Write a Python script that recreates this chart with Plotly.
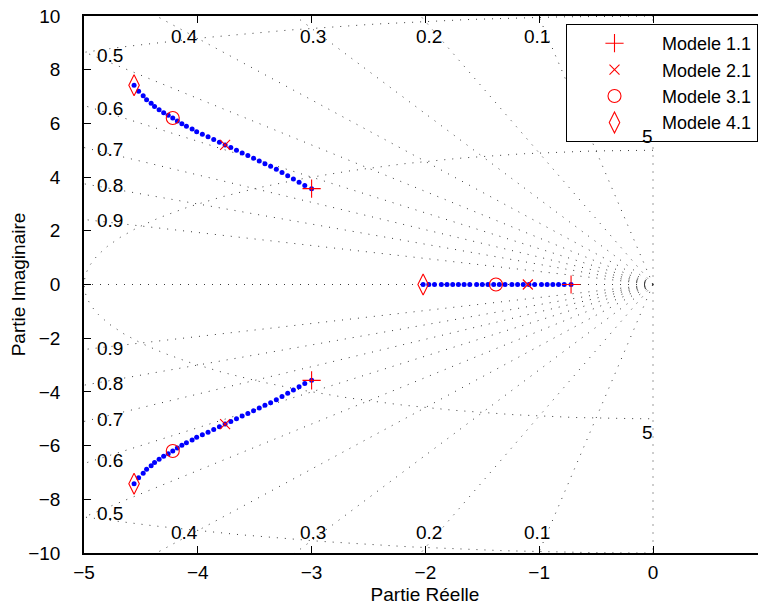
import numpy as np
import plotly.graph_objects as go

# ---------------- data ----------------
branch_up_x = [-4.56, -4.52, -4.48, -4.45, -4.41, -4.38, -4.34, -4.30, -4.26, -4.22,
               -4.18, -4.14, -4.10, -4.05, -4.01, -3.96, -3.91, -3.86, -3.81, -3.76,
               -3.71, -3.66, -3.61, -3.56, -3.51, -3.46, -3.41, -3.36, -3.31, -3.26,
               -3.21, -3.16, -3.11, -3.06, -3.00]
branch_up_y = [7.42, 7.20, 7.03, 6.88, 6.75, 6.63, 6.51, 6.40, 6.30, 6.20,
               6.09, 5.99, 5.89, 5.79, 5.69, 5.60, 5.50, 5.40, 5.30, 5.20,
               5.10, 5.00, 4.90, 4.80, 4.70, 4.60, 4.50, 4.40, 4.29, 4.17,
               4.05, 3.93, 3.81, 3.69, 3.57]
branch_dn_x = [-4.56, -4.52, -4.48, -4.45, -4.41, -4.38, -4.34, -4.30, -4.26, -4.22,
               -4.18, -4.14, -4.10, -4.05, -4.01, -3.96, -3.91, -3.86, -3.81, -3.76,
               -3.71, -3.66, -3.61, -3.56, -3.51, -3.46, -3.41, -3.36, -3.31, -3.26,
               -3.21, -3.16, -3.11, -3.06, -3.00]
branch_dn_y = [-7.42, -7.20, -7.03, -6.88, -6.75, -6.63, -6.51, -6.40, -6.30, -6.20,
               -6.09, -5.99, -5.89, -5.79, -5.69, -5.60, -5.50, -5.40, -5.30, -5.20,
               -5.10, -5.00, -4.90, -4.80, -4.70, -4.60, -4.50, -4.40, -4.29, -4.17,
               -4.05, -3.93, -3.81, -3.69, -3.57]
real_x = [-2.02, -1.97, -1.92, -1.86, -1.81, -1.76, -1.71, -1.66, -1.61, -1.55,
          -1.50, -1.45, -1.40, -1.35, -1.30, -1.24, -1.19, -1.14, -1.09, -1.04,
          -0.98, -0.93, -0.88, -0.83, -0.78, -0.72]
real_y = [0.0] * len(real_x)

model_names = ["Modele 1.1", "Modele 2.1", "Modele 3.1", "Modele 4.1"]
model_x = [[-3.00, -3.00, -0.72],
           [-3.76, -3.76, -1.10],
           [-4.22, -4.22, -1.38],
           [-4.56, -4.56, -2.02]]
model_y = [[3.57, -3.57, 0.0],
           [5.20, -5.20, 0.0],
           [6.20, -6.20, 0.0],
           [7.42, -7.42, 0.0]]

zeta_values = [0.1, 0.2, 0.3, 0.4, 0.5, 0.6, 0.7, 0.8, 0.9]
zeta_labels = ["0.1", "0.2", "0.3", "0.4", "0.5", "0.6", "0.7", "0.8", "0.9"]
wn_values = [5, 10]
wn_labels = ["5", "10"]

x_ticks = [-5, -4, -3, -2, -1, 0, 1]
y_ticks = [-10, -8, -6, -4, -2, 0, 2, 4, 6, 8, 10]

# ---------------- styling ----------------
FONT = "Liberation Sans, Arial, Helvetica, sans-serif"
FS = 19
GRID_COLOR = "#3a3a3a"
X_RANGE = [-5, 0.993]
Y_RANGE = [-10, 10]

fig = go.Figure()

# damping-ratio rays (zeta = 0 and 1 give imaginary and negative real axes)
gx, gy = [], []
for z in [0.0] + zeta_values + [1.0]:
    s = np.sqrt(1 - z * z)
    L = 30
    for sign in (1, -1):
        gx += [0, -z * L, None]
        gy += [0, sign * s * L, None]
# natural-frequency circles
th = np.linspace(np.pi / 2, 3 * np.pi / 2, 400)
for wn in wn_values:
    gx += list(wn * np.cos(th)) + [None]
    gy += list(wn * np.sin(th)) + [None]

fig.add_trace(go.Scatter(x=gx, y=gy, mode="lines", showlegend=False,
                         hoverinfo="skip",
                         line=dict(color=GRID_COLOR, width=1, dash="1px,7px")))

# loci (blue dots)
for xs, ys in [(branch_up_x, branch_up_y), (branch_dn_x, branch_dn_y), (real_x, real_y)]:
    fig.add_trace(go.Scatter(x=xs, y=ys, mode="markers", showlegend=False,
                             marker=dict(color="#0000ff", size=5)))

symbols = ["cross-thin", "x-thin", "circle-open", "diamond-tall-open"]
sizes = [13, 10, 13, 15]
for name, xs, ys, sym, sz in zip(model_names, model_x, model_y, symbols, sizes):
    fig.add_trace(go.Scatter(x=xs, y=ys, mode="markers", name=name,
                             marker=dict(symbol=sym, size=sz, color="#ff0000",
                                         line=dict(color="#ff0000", width=1.1))))

annotations = []
for z, lab in zip(zeta_values, zeta_labels):
    s = np.sqrt(1 - z * z)
    y_at_left = 5 * s / z
    if y_at_left > 10:
        xl = -9.22 * z / s - 0.09
        for yl in (9.22, -9.22):
            annotations.append(dict(x=xl, y=yl, text=lab, showarrow=False,
                                    font=dict(family=FONT, size=FS, color="black")))
    else:
        yl = 4.93 * s / z
        for sgn in (1, -1):
            annotations.append(dict(x=-4.77, y=sgn * yl, text=lab, showarrow=False,
                                    font=dict(family=FONT, size=FS, color="black")))
for wn, lab in zip(wn_values, wn_labels):
    yl = wn * 1.104
    if yl < Y_RANGE[1]:
        for sgn in (1, -1):
            annotations.append(dict(x=-0.05, y=sgn * yl, text=lab, showarrow=False,
                                    font=dict(family=FONT, size=FS, color="black")))

# page has an 8px body margin: figure is 758x600 and offset by 8px
fig.update_layout(
    width=758, height=600,
    margin=dict(l=76, r=0, t=8, b=55),
    paper_bgcolor="white", plot_bgcolor="white",
    font=dict(family=FONT, size=FS, color="black"),
    annotations=annotations,
    legend=dict(x=(758 - 84) / 682, y=(553 - 24) / 537, xanchor="right", yanchor="top",
                bgcolor="white", bordercolor="black", borderwidth=1,
                font=dict(family=FONT, size=18, color="black"),
                itemwidth=85, tracegroupgap=0),
    xaxis=dict(range=X_RANGE, tickvals=x_ticks, ticks="inside", ticklen=7,
               showline=True, linecolor="black", linewidth=1.5, mirror="ticks",
               showgrid=False, zeroline=False, tickcolor="black", automargin=False,
               title=dict(text="Partie Réelle", standoff=6,
                          font=dict(family=FONT, size=FS)),
               ticklabelstandoff=1, ticklabeloverflow="allow"),
    yaxis=dict(range=Y_RANGE, tickvals=y_ticks, ticks="inside", ticklen=7,
               showline=True, linecolor="black", linewidth=1.5, mirror="ticks",
               showgrid=False, zeroline=False, tickcolor="black", automargin=False,
               title=dict(text="Partie Imaginaire", standoff=4,
                          font=dict(family=FONT, size=FS)),
               ticklabelstandoff=18, ticklabeloverflow="allow"),
)

fig.write_html("out.html")
